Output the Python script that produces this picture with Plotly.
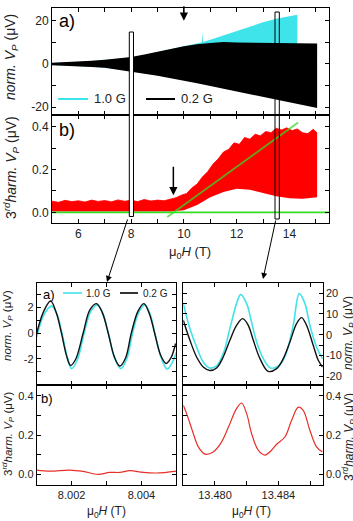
import plotly.graph_objects as go

W, H = 353, 521
def px(x): return x / W
def py(y): return 1 - y / H

# ---------------- data: top figure ----------------
field_env = [5.0, 5.5, 6.0, 6.5, 7.0, 7.5, 8.0, 8.5, 9.0, 9.5, 10.0, 10.5, 11.0, 11.5, 12.0, 12.5, 13.0, 13.5, 14.0, 14.5, 15.05]
black_upper = [0.6, 0.8, 1.0, 1.5, 2.0, 2.6, 3.2, 4.4, 5.8, 7.0, 8.2, 9.2, 9.8, 10.2, 10.0, 9.9, 9.8, 9.7, 9.7, 9.6, 9.5]
black_lower = [-0.6, -0.8, -1.1, -1.4, -1.8, -2.6, -3.6, -4.5, -5.5, -6.5, -7.8, -9.0, -10.3, -11.5, -12.8, -14.1, -15.4, -16.7, -18.0, -19.2, -20.5]

cyan_field = [5.0, 5.5, 6.0, 6.5, 7.0, 7.5, 8.0, 8.5, 9.0, 9.5, 10.0, 10.5, 10.68, 10.7, 10.72, 11.0, 11.5, 12.0, 12.5, 13.0, 13.5, 14.0, 14.3]
cyan_upper = [0.5, 0.7, 0.9, 1.3, 1.8, 2.4, 3.0, 4.1, 5.4, 6.7, 8.0, 9.4, 10.1, 15.2, 10.2, 11.3, 13.2, 15.2, 17.3, 19.4, 21.0, 22.2, 22.9]
cyan_lower = [-0.5, -0.7, -1.0, -1.3, -1.7, -2.4, -3.3, -4.2, -5.2, -6.2, -7.4, -8.6, -9.0, -9.0, -9.1, -9.8, -11.0, -12.2, -13.4, -14.6, -15.8, -17.0, -17.7]

red_up_field = [5.0, 5.25, 5.5, 5.75, 6.0, 6.25, 6.5, 6.75, 7.0, 7.25, 7.5, 7.75, 8.0, 8.25, 8.5, 8.75, 9.0, 9.25,
                9.5, 9.7, 9.9, 10.1, 10.3, 10.5, 10.7, 10.9, 11.1, 11.3, 11.5, 11.7, 11.9, 12.1, 12.3, 12.5,
                12.7, 12.9, 13.1, 13.3, 13.5, 13.7, 13.9, 14.1, 14.3, 14.5, 14.7, 14.9, 15.05]
red_upper = [0.052, 0.047, 0.056, 0.050, 0.054, 0.048, 0.057, 0.051, 0.055, 0.049, 0.058, 0.052, 0.056, 0.050, 0.060, 0.053, 0.057, 0.054,
             0.062, 0.068, 0.080, 0.088, 0.114, 0.132, 0.165, 0.190, 0.225, 0.250, 0.282, 0.295, 0.325, 0.318, 0.350, 0.342,
             0.365, 0.358, 0.378, 0.372, 0.393, 0.385, 0.395, 0.382, 0.390, 0.372, 0.368, 0.388, 0.372]
red_lo_field = [5.0, 9.5, 10.0, 10.5, 11.0, 11.5, 12.0, 12.5, 13.0, 13.5, 14.0, 14.5, 15.05]
red_lower = [0.004, 0.004, 0.010, 0.034, 0.070, 0.095, 0.110, 0.105, 0.090, 0.075, 0.066, 0.063, 0.070]

green_flat_x = [5.0, 15.5]
green_flat_y = [0.0, 0.0]
green_fit_x = [9.37, 14.33]
green_fit_y = [-0.022, 0.42]

# ---------------- data: bottom-left (near 8 T) ----------------
bl_black_x = [8.00100, 8.00120, 8.00140, 8.00156, 8.00171, 8.00185, 8.00197, 8.00212, 8.00233, 8.00252, 8.00271, 8.00288,
              8.00305, 8.00322, 8.00338, 8.00355, 8.00371, 8.00390, 8.00407, 8.00423, 8.00438, 8.00455, 8.00471, 8.00485, 8.00498]
bl_black_y = [0.0, 1.7, 2.5, 1.6, 0.0, -1.7, -2.5, -2.0, 0.0, 1.8, 2.3, 1.6,
              0.0, -1.8, -2.55, -1.9, 0.0, 1.7, 2.3, 1.5, 0.0, -1.7, -2.35, -1.9, -0.8]
bl_cyan_x = [8.00100, 8.00122, 8.00143, 8.00159, 8.00174, 8.00188, 8.00200, 8.00216, 8.00236, 8.00255, 8.00274, 8.00290,
             8.00307, 8.00324, 8.00341, 8.00358, 8.00374, 8.00392, 8.00410, 8.00426, 8.00441, 8.00458, 8.00474, 8.00488, 8.00500]
bl_cyan_y = [-0.3, 1.5, 2.1, 1.4, -0.2, -1.9, -2.75, -2.1, 0.0, 1.7, 2.2, 1.5,
             -0.2, -2.0, -2.75, -2.0, -0.1, 1.6, 2.2, 1.4, -0.3, -2.0, -2.8, -2.3, -1.5]
bl_red_x = [8.00100, 8.00138, 8.00195, 8.00233, 8.00276, 8.00309, 8.00338, 8.00367, 8.00405, 8.00443, 8.00500]
bl_red_y = [0.022, 0.017, 0.022, 0.015, 0.000, 0.010, 0.010, 0.019, 0.010, 0.007, 0.017]

# ---------------- data: bottom-right (near 13.48 T) ----------------
br_cyan_x = [13.47800, 13.47842, 13.47884, 13.47926, 13.47968, 13.48010, 13.48052, 13.48094, 13.48136, 13.48162,
             13.48200, 13.48231, 13.48263, 13.48305, 13.48351, 13.48410, 13.48452, 13.48494, 13.48532, 13.48568,
             13.48599, 13.48641, 13.48679]
br_cyan_y = [14.9, 2.9, -5.9, -13.1, -16.0, -15.0, -9.1, 2.9, 14.9, 19.2,
             14.9, 6.0, -3.5, -11.5, -16.0, -14.4, -8.3, 4.5, 19.7, 14.9,
             4.5, -5.9, -11.5]
br_black_x = [13.47800, 13.47842, 13.47884, 13.47926, 13.47968, 13.48010, 13.48052, 13.48094, 13.48136, 13.48175,
              13.48210, 13.48242, 13.48284, 13.48336, 13.48389, 13.48431, 13.48473, 13.48515, 13.48547, 13.48578,
              13.48620, 13.48652, 13.48679]
br_black_y = [6.9, -2.7, -10.7, -15.5, -17.2, -16.0, -10.7, -2.7, 4.5, 7.7,
              4.5, -2.7, -11.5, -17.6, -16.3, -11.5, -3.5, 5.3, 8.2, 4.5,
              -5.1, -12.3, -15.5]
br_red_x = [13.47800, 13.47821, 13.47863, 13.47895, 13.47937, 13.47989, 13.48042, 13.48094, 13.48136, 13.48168,
            13.48200, 13.48231, 13.48273, 13.48315, 13.48357, 13.48389, 13.48441, 13.48484, 13.48526, 13.48557,
            13.48599, 13.48641, 13.48679]
br_red_y = [0.351, 0.309, 0.208, 0.140, 0.103, 0.114, 0.165, 0.258, 0.334, 0.363,
            0.309, 0.208, 0.123, 0.098, 0.123, 0.153, 0.190, 0.275, 0.342, 0.326,
            0.224, 0.140, 0.114]

CYAN = "#3fe3ea"
BLACK = "#000000"
RED = "#ff0000"
GREEN = "#33dd22"

fig = go.Figure()
def band(x_lo, lo, x_up, up, color, xa, ya, lw=0):
    fig.add_trace(go.Scatter(x=x_lo, y=lo, mode="lines", line=dict(width=0, color=color),
                             xaxis=xa, yaxis=ya, showlegend=False, hoverinfo="skip"))
    fig.add_trace(go.Scatter(x=x_up, y=up, mode="lines", line=dict(width=lw, color=color),
                             fill="tonexty", fillcolor=color, xaxis=xa, yaxis=ya, showlegend=False, hoverinfo="skip"))

band(cyan_field, cyan_lower, cyan_field, cyan_upper, CYAN, "x", "y")
band(field_env, black_lower, field_env, black_upper, BLACK, "x", "y")
band(red_lo_field, red_lower, red_up_field, red_upper, RED, "x2", "y2", lw=0.8)
fig.add_trace(go.Scatter(x=green_flat_x, y=green_flat_y, mode="lines", line=dict(color=GREEN, width=1.8),
                         xaxis="x2", yaxis="y2", showlegend=False))
fig.add_trace(go.Scatter(x=green_fit_x, y=green_fit_y, mode="lines", line=dict(color=GREEN, width=1.8),
                         opacity=0.75, xaxis="x2", yaxis="y2", showlegend=False))

fig.add_trace(go.Scatter(x=bl_cyan_x, y=bl_cyan_y, mode="lines", line=dict(color=CYAN, width=1.6, shape="spline"),
                         xaxis="x3", yaxis="y3", showlegend=False))
fig.add_trace(go.Scatter(x=bl_black_x, y=bl_black_y, mode="lines", line=dict(color="#111", width=1.4, shape="spline"),
                         xaxis="x3", yaxis="y3", showlegend=False))
fig.add_trace(go.Scatter(x=bl_red_x, y=bl_red_y, mode="lines", line=dict(color="#e8302a", width=1.2, shape="spline"),
                         xaxis="x4", yaxis="y4", showlegend=False))
fig.add_trace(go.Scatter(x=br_cyan_x, y=br_cyan_y, mode="lines", line=dict(color=CYAN, width=1.6, shape="spline"),
                         xaxis="x5", yaxis="y5", showlegend=False))
fig.add_trace(go.Scatter(x=br_black_x, y=br_black_y, mode="lines", line=dict(color="#111", width=1.4, shape="spline"),
                         xaxis="x5", yaxis="y5", showlegend=False))
fig.add_trace(go.Scatter(x=br_red_x, y=br_red_y, mode="lines", line=dict(color="#e8302a", width=1.2, shape="spline"),
                         xaxis="x6", yaxis="y6", showlegend=False))

FONT = "Liberation Sans, Arial, sans-serif"
TXT = "#222"
def ax(domain, rng, tickvals, ticktext, anchor, size, showlabels=True, side=None):
    d = dict(domain=domain, range=rng, tickmode="array", tickvals=tickvals, ticktext=ticktext,
             ticks="inside", ticklen=4, tickcolor="black", showline=True, linecolor="black", linewidth=1,
             mirror="ticks", showgrid=False, zeroline=False, anchor=anchor, showticklabels=showlabels,
             tickfont=dict(family=FONT, size=size, color=TXT))
    if side:
        d["side"] = side
    return d

top_xd = [px(52), px(329)]
top_xv = list(range(5, 16))
top_xt = ["", "6", "", "8", "", "10", "", "12", "", "14", ""]
bl_xd = [px(36.7), px(176.3)]
br_xd = [px(183.3), px(322.7)]

fig.update_layout(
    width=W, height=H, margin=dict(l=0, r=0, t=0, b=0),
    paper_bgcolor="white", plot_bgcolor="white", showlegend=False,
    xaxis=ax(top_xd, [5, 15.5], top_xv, top_xt, "y", 12, showlabels=False),
    yaxis=ax([py(115), py(8)], [-23.7, 26], [-20, -10, 0, 10, 20], ["-20", "", "0", "", "20"], "x", 12),
    xaxis2=ax(top_xd, [5, 15.5], top_xv, top_xt, "y2", 12),
    yaxis2=ax([py(223), py(115)], [-0.05, 0.455], [0, 0.1, 0.2, 0.3, 0.4], ["0.0", "", "0.2", "", "0.4"], "x2", 12),
    xaxis3=ax(bl_xd, [8.001, 8.005], [8.002, 8.003, 8.004], ["8.002", "", "8.004"], "y3", 11, showlabels=False),
    yaxis3=ax([py(384.7), py(283)], [-4.0, 3.9], [-3, -2, -1, 0, 1, 2, 3], ["", "-2", "", "0", "", "2", ""], "x3", 11),
    xaxis4=ax(bl_xd, [8.001, 8.005], [8.002, 8.003, 8.004], ["8.002", "", "8.004"], "y4", 11),
    yaxis4=ax([py(485), py(384.7)], [-0.054, 0.456], [0, 0.1, 0.2, 0.3, 0.4], ["0.0", "", "0.2", "", "0.4"], "x4", 11),
    xaxis5=ax(br_xd, [13.478, 13.4868], [13.480, 13.482, 13.484, 13.486], ["13.480", "", "13.484", ""], "y5", 11, showlabels=False),
    yaxis5=ax([py(384.7), py(283)], [-24, 24.8], [-20, -15, -10, -5, 0, 5, 10, 15, 20],
              ["-20", "", "-10", "", "0", "", "10", "", "20"], "x5", 11, side="right"),
    xaxis6=ax(br_xd, [13.478, 13.4868], [13.480, 13.482, 13.484, 13.486], ["13.480", "", "13.484", ""], "y6", 11),
    yaxis6=ax([py(485), py(384.7)], [-0.054, 0.456], [0, 0.1, 0.2, 0.3, 0.4], ["0.0", "", "0.2", "", "0.4"], "x6", 11, side="right"),
)

NORM = "<i>norm.</i> <i>V</i><sub><i>P</i></sub> (μV)"
HARM = "3<sup><i>rd</i></sup><i>harm.</i> <i>V</i><sub><i>P</i></sub> (μV)"
XT = "μ<sub>0</sub><i>H</i> (T)"

ann = []
def text(x, y, t, size, angle=0, xanchor="center", color=TXT):
    ann.append(dict(x=px(x), y=py(y), xref="paper", yref="paper", text=t, showarrow=False, textangle=angle,
                    xanchor=xanchor, yanchor="middle", font=dict(family=FONT, size=size, color=color)))

text(11, 57, NORM, 14, -90)
text(11, 168, HARM, 14, -90)
text(190, 252, XT, 13)
text(8, 326, NORM, 11.5, -90)
text(8, 434, HARM, 11.5, -90)
text(349, 333, NORM, 12, -90)
text(349, 437, HARM, 12, -90)
text(106, 512, XT, 12)
text(252, 512, XT, 12)
text(57, 21, "a)", 18, xanchor="left", color="black")
text(57, 130, "b)", 18, xanchor="left", color="black")
text(41, 294, "a)", 13, xanchor="left", color="black")
text(39, 398, "b)", 13, xanchor="left", color="black")
text(92, 99, "1.0 G", 13, xanchor="left")
text(179, 99, "0.2 G", 13, xanchor="left")
text(84, 293, "1.0 G", 10, xanchor="left")
text(141, 293, "0.2 G", 10, xanchor="left")

# arrows
ann.append(dict(x=10.0, y=20.1, xref="x", yref="y", ax=0, ay=-16, showarrow=True, arrowhead=2,
                arrowsize=1.1, arrowwidth=1.5, arrowcolor="black", text=""))
ann.append(dict(x=9.6, y=0.08, xref="x2", yref="y2", ax=0, ay=-30, showarrow=True, arrowhead=2,
                arrowsize=1.1, arrowwidth=1.5, arrowcolor="black", text=""))
ann.append(dict(x=px(107), y=py(282), xref="paper", yref="paper", ax=21, ay=-64, showarrow=True, arrowhead=2,
                arrowsize=1.2, arrowwidth=1, arrowcolor="black", text=""))
ann.append(dict(x=px(263), y=py(279), xref="paper", yref="paper", ax=13, ay=-60, showarrow=True, arrowhead=2,
                arrowsize=1.2, arrowwidth=1, arrowcolor="black", text=""))
fig.update_layout(annotations=ann)

shapes = [
    dict(type="rect", xref="paper", yref="paper", x0=px(129.3), x1=px(133.5), y0=py(216.5), y1=py(32),
         line=dict(color="black", width=1), fillcolor="white", layer="above"),
    dict(type="rect", xref="paper", yref="paper", x0=px(275), x1=px(279.3), y0=py(219), y1=py(12),
         line=dict(color="black", width=1), fillcolor="rgba(0,0,0,0)", layer="above"),
    dict(type="line", xref="paper", yref="paper", x0=px(58), x1=px(88), y0=py(99), y1=py(99),
         line=dict(color=CYAN, width=2)),
    dict(type="line", xref="paper", yref="paper", x0=px(146), x1=px(175), y0=py(99), y1=py(99),
         line=dict(color="black", width=2)),
    dict(type="line", xref="paper", yref="paper", x0=px(63), x1=px(82), y0=py(293), y1=py(293),
         line=dict(color=CYAN, width=1.6)),
    dict(type="line", xref="paper", yref="paper", x0=px(120), x1=px(138), y0=py(293), y1=py(293),
         line=dict(color="black", width=1.6)),
]
fig.update_layout(shapes=shapes)

fig.write_html("out.html")
